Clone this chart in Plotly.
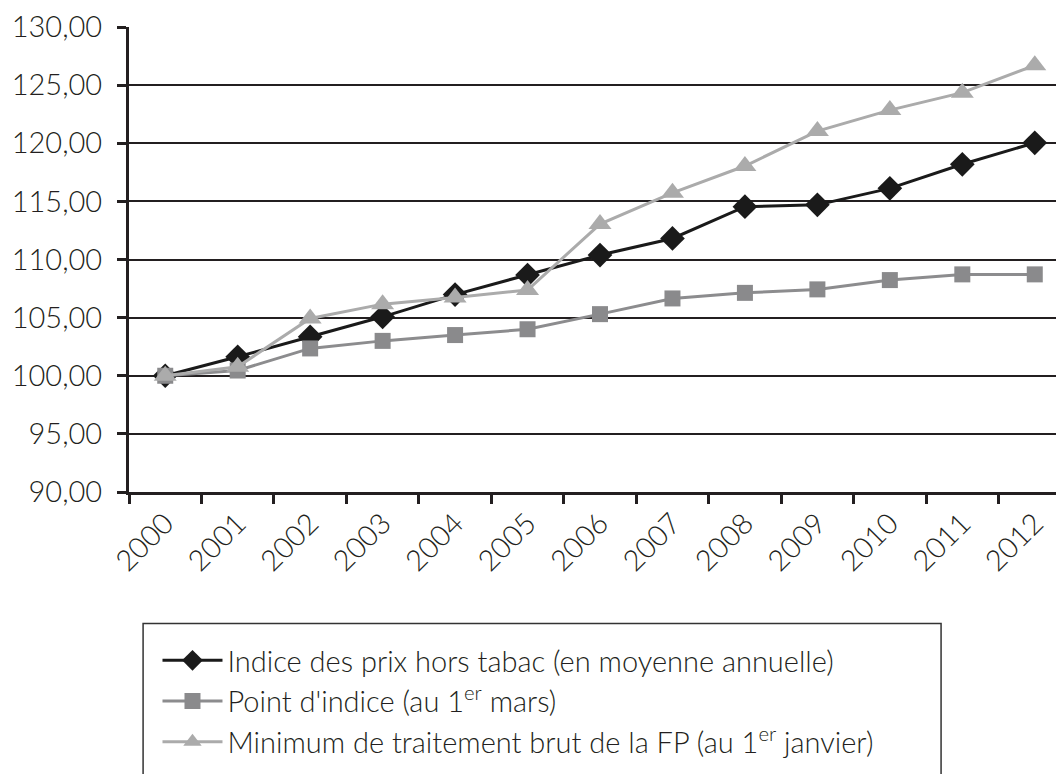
import plotly.graph_objects as go

years = ["2000", "2001", "2002", "2003", "2004", "2005", "2006",
         "2007", "2008", "2009", "2010", "2011", "2012"]
indice_prix = [100.00, 101.63, 103.35, 105.07, 106.98, 108.66, 110.38,
               111.81, 114.54, 114.70, 116.12, 118.19, 120.04]
point_indice = [100.00, 100.45, 102.35, 103.00, 103.50, 104.00, 105.30,
                106.65, 107.13, 107.43, 108.23, 108.72, 108.72]
minimum_fp = [100.00, 100.77, 104.93, 106.16, 106.74, 107.37, 113.05,
              115.74, 118.04, 121.05, 122.85, 124.35, 126.70]

names = ["Indice des prix hors tabac (en moyenne annuelle)",
         "Point d'indice (au 1<sup>er</sup> mars)",
         "Minimum de traitement brut de la FP (au 1<sup>er</sup> janvier)"]

FONT = "Lato"
INK = "#231f20"

fig = go.Figure()
fig.add_trace(go.Scatter(
    x=years, y=indice_prix, name=names[0], mode="lines+markers",
    line=dict(color="#1a1a1a", width=3),
    marker=dict(symbol="diamond", size=19, color="#1a1a1a")))
fig.add_trace(go.Scatter(
    x=years, y=point_indice, name=names[1], mode="lines+markers",
    line=dict(color="#8c8c8e", width=3),
    marker=dict(symbol="square", size=16, color="#8a8a8c")))
fig.add_trace(go.Scatter(
    x=years, y=minimum_fp, name=names[2], mode="lines+markers",
    line=dict(color="#ababab", width=3),
    marker=dict(symbol="triangle-up", size=20, color="#ababab")))

# page body has an 8px margin in the browser
OFF = 8
W, H = 1064, 774
left_s, top_s, bottom_s = 128.5, 27, 492   # plot area in screen pixels
ml, mt = left_s - OFF, top_s - OFF
mb = H - (bottom_s - OFF)
plot_w = W - ml
plot_h = bottom_s - top_s
px_per_cat = 72.5
xmax = -0.5 + plot_w / px_per_cat


def py(p):
    return (bottom_s - p) / plot_h


def px(p):
    return (p - left_s) / plot_w


fig.update_layout(
    width=W, height=H,
    margin=dict(l=ml, r=0, t=mt, b=mb, pad=0),
    paper_bgcolor="white", plot_bgcolor="white",
    separators=", ",
    font=dict(family=FONT, color=INK, size=26, weight=300),
    showlegend=True,
    legend=dict(
        x=px(157), y=py(635), xanchor="left", yanchor="top",
        bgcolor="rgba(0,0,0,0)", borderwidth=0,
        font=dict(family=FONT, size=29, color=INK, weight=300),
        itemwidth=60, tracegroupgap=0,
    ),
    xaxis=dict(
        type="category", range=[-0.5, xmax],
        tickangle=-45, tickson="boundaries",
        ticks="outside", ticklen=9, tickwidth=2.5, tickcolor=INK,
        showline=True, linecolor=INK, linewidth=2.5,
        showgrid=False, zeroline=False,
        tickfont=dict(family=FONT, size=29, color=INK, weight=300),
    ),
    yaxis=dict(
        range=[90, 130], dtick=5, tick0=90, tickformat=".2f",
        ticks="outside", ticklen=9, tickwidth=2.5, tickcolor=INK,
        showline=True, linecolor=INK, linewidth=3,
        showgrid=True, gridcolor=INK, gridwidth=1.6,
        zeroline=False, ticklabelstandoff=9,
        tickfont=dict(family=FONT, size=29, color=INK, weight=300),
    ),
    shapes=[dict(
        type="rect", xref="paper", yref="paper",
        x0=px(142.6), x1=px(941), y0=py(623.5), y1=py(830),
        line=dict(color="#333333", width=1.5), fillcolor="rgba(0,0,0,0)",
        layer="below")],
)

fig.write_html("out.html")
